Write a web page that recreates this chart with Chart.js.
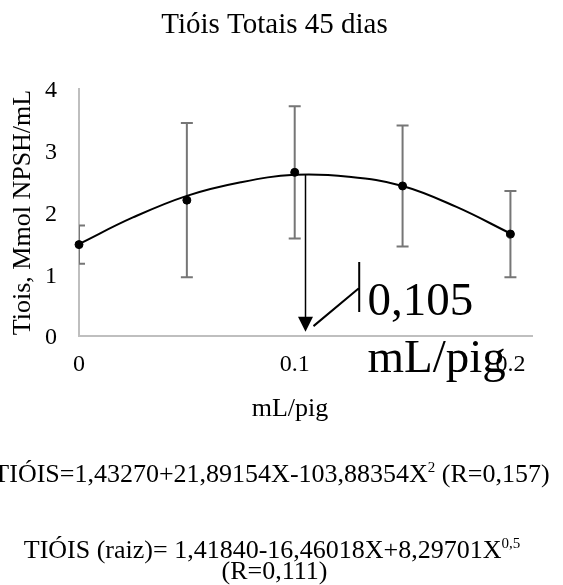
<!DOCTYPE html>
<html>
<head>
<meta charset="utf-8">
<script src="https://cdn.jsdelivr.net/npm/chart.js@4.4.1/dist/chart.umd.min.js"></script>
<style>
  body { margin: 0; background: #fff; }
  #wrap { width: 563px; height: 585px; }
</style>
</head>
<body>
<div id="wrap"><canvas id="chart" width="563" height="585"></canvas></div>
<script>
// dose (mL/pig) and measured thiols
const doses = [0, 0.05, 0.1, 0.15, 0.2];
const means = [1.48, 2.20, 2.65, 2.43, 1.65];
const errors = [0.31, 1.25, 1.07, 0.98, 0.70];

// fitted curve
const curveX = [0, 0.025, 0.05, 0.075, 0.1, 0.125, 0.15, 0.175, 0.2];
const curveY = [1.49, 1.92, 2.27, 2.49, 2.61, 2.58, 2.43, 2.09, 1.66];

const yTicks = [0, 1, 2, 3, 4];
const xTicks = [0, 0.1, 0.2];

const titleText = 'Tióis Totais 45 dias';
const yTitle = 'Tiois, Mmol NPSH/mL';
const xTitle = 'mL/pig';
const calloutLines = ['0,105', 'mL/pig'];

// callout arrow, in data units
const callout = {
    x: 0.105, top: 2.62, tip: 0.07,
    leader: [[0.1087, 0.16], [0.1296, 0.77]],
    bar: [0.1299, 1.20, 0.39],
    textX: 0.1337, textY: [0.34, -0.58]
};

const serif = '"Liberation Serif", "Times New Roman", serif';
Chart.defaults.font.family = serif;
Chart.defaults.color = '#000';

function drawRich(ctx, parts, cx, baseline) {
    let total = 0;
    parts.forEach(p => {
        ctx.font = (p.sup ? '15px ' : '26px ') + serif;
        p.w = ctx.measureText(p.t).width;
        total += p.w;
    });
    let x = cx - total / 2;
    parts.forEach(p => {
        ctx.font = (p.sup ? '15px ' : '26px ') + serif;
        ctx.fillText(p.t, x, p.sup ? baseline - 10 : baseline);
        x += p.w;
    });
}

const overlay = {
    id: 'overlay',
    beforeDatasetsDraw(chart) {
        // error bars
        const ctx = chart.ctx, xs = chart.scales.x, ys = chart.scales.y, a = chart.chartArea;
        ctx.save();
        ctx.beginPath();
        ctx.rect(a.left, a.top - 20, a.right - a.left, a.bottom - a.top + 20);
        ctx.clip();
        ctx.strokeStyle = '#767676';
        ctx.lineWidth = 2;
        doses.forEach((d, i) => {
            const px = xs.getPixelForValue(d);
            const hi = ys.getPixelForValue(means[i] + errors[i]);
            const lo = ys.getPixelForValue(means[i] - errors[i]);
            ctx.beginPath();
            ctx.moveTo(px, hi); ctx.lineTo(px, lo);
            ctx.moveTo(px - 6, hi); ctx.lineTo(px + 6, hi);
            ctx.moveTo(px - 6, lo); ctx.lineTo(px + 6, lo);
            ctx.stroke();
        });
        ctx.restore();
    },
    afterDatasetsDraw(chart) {
        const ctx = chart.ctx, xs = chart.scales.x, ys = chart.scales.y;
        const px = xs.getPixelForValue(callout.x);
        const top = ys.getPixelForValue(callout.top);
        const tip = ys.getPixelForValue(callout.tip);
        ctx.save();
        ctx.strokeStyle = '#000';
        ctx.fillStyle = '#000';
        ctx.lineWidth = 1.5;
        ctx.beginPath();
        ctx.moveTo(px, top); ctx.lineTo(px, tip - 12);
        ctx.stroke();
        ctx.beginPath();
        ctx.moveTo(px - 7.5, tip - 15);
        ctx.lineTo(px + 7.5, tip - 15);
        ctx.lineTo(px, tip);
        ctx.closePath();
        ctx.fill();
        // leader line and bar
        ctx.lineWidth = 2;
        ctx.beginPath();
        ctx.moveTo(xs.getPixelForValue(callout.leader[0][0]), ys.getPixelForValue(callout.leader[0][1]));
        ctx.lineTo(xs.getPixelForValue(callout.leader[1][0]), ys.getPixelForValue(callout.leader[1][1]));
        const bx = xs.getPixelForValue(callout.bar[0]);
        ctx.moveTo(bx, ys.getPixelForValue(callout.bar[1]));
        ctx.lineTo(bx, ys.getPixelForValue(callout.bar[2]));
        ctx.stroke();
        ctx.font = '47px ' + serif;
        ctx.textAlign = 'left';
        ctx.textBaseline = 'alphabetic';
        calloutLines.forEach((t, i) => {
            ctx.fillText(t, xs.getPixelForValue(callout.textX), ys.getPixelForValue(callout.textY[i]));
        });
        ctx.restore();
    },
    afterDraw(chart) {
        const ctx = chart.ctx;
        ctx.save();
        ctx.fillStyle = '#000';
        ctx.textBaseline = 'alphabetic';
        ctx.textAlign = 'center';
        ctx.font = '29px ' + serif;
        ctx.fillText(titleText, 274.5, 33);
        ctx.font = '26px ' + serif;
        ctx.fillText(xTitle, 290, 416);
        ctx.textAlign = 'left';
        drawRich(ctx, [{t: 'TIÓIS=1,43270+21,89154X-103,88354X'}, {t: '2', sup: true}, {t: ' (R=0,157)'}], 271.5, 482);
        drawRich(ctx, [{t: 'TIÓIS (raiz)= 1,41840-16,46018X+8,29701X'}, {t: '0,5', sup: true}], 272, 558);
        drawRich(ctx, [{t: '(R=0,111)'}], 274.5, 579);
        ctx.restore();
    }
};

new Chart(document.getElementById('chart'), {
    type: 'scatter',
    data: {
        datasets: [{
            label: 'Tióis',
            data: doses.map((d, i) => ({x: d, y: means[i]})),
            backgroundColor: '#000',
            borderColor: '#000',
            pointRadius: 4,
            clip: false
        }, {
            type: 'line',
            label: 'ajuste',
            data: curveX.map((d, i) => ({x: d, y: curveY[i]})),
            borderColor: '#000',
            borderWidth: 2,
            pointRadius: 0,
            tension: 0.4,
            fill: false
        }]
    },
    options: {
        responsive: false,
        animation: false,
        layout: { padding: { top: 89, right: 31, bottom: 209, left: 0 } },
        plugins: { legend: { display: false }, tooltip: { enabled: false } },
        scales: {
            x: {
                type: 'linear',
                min: 0, max: 0.21,
                grid: { display: false, drawTicks: false },
                border: { color: '#bfbfbf', width: 2 },
                afterBuildTicks: s => { s.ticks = xTicks.map(v => ({value: v})); },
                afterFit: s => { s.height = 40; },
                ticks: {
                    padding: 14,
                    font: { size: 24 },
                    maxRotation: 0,
                    callback: v => v === 0 ? '0' : v.toFixed(1)
                }
            },
            y: {
                min: 0, max: 4,
                grid: { display: false, drawTicks: false },
                border: { color: '#bfbfbf', width: 2 },
                afterBuildTicks: s => { s.ticks = yTicks.map(v => ({value: v})); },
                afterFit: s => { s.width = 79; },
                ticks: { padding: 22, font: { size: 24 }, labelOffset: 2 },
                title: {
                    display: true,
                    text: yTitle,
                    font: { size: 26 },
                    padding: { top: 8, bottom: 0 }
                }
            }
        }
    },
    plugins: [overlay]
});
</script>
</body>
</html>
